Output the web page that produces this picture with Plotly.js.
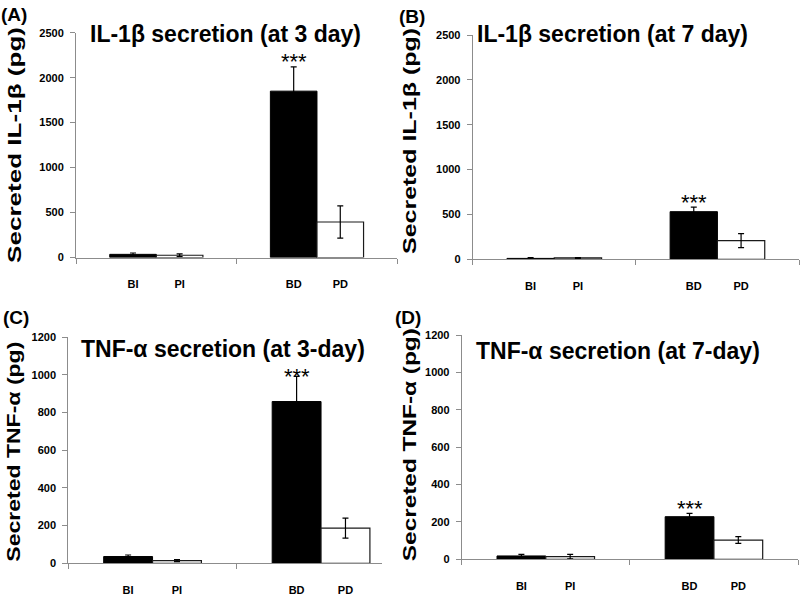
<!DOCTYPE html>
<html>
<head>
<meta charset="utf-8">
<script src="https://cdn.plot.ly/plotly-3.0.1.min.js"></script>
<style>
  html, body { margin: 0; padding: 0; background: #fff; }
  #chart { width: 800px; height: 599px; }
</style>
</head>
<body>
<div id="chart"></div>
<script>
// bar labels under each bar, two groups (I / D)
const groupPos = [0.5, 1.5];
const blackLabels = ['BI', 'BD'];
const whiteLabels = ['PI', 'PD'];

// (A) IL-1β at 3 day
const il1b3Black = [35, 1850];
const il1b3BlackErr = [15, 270];
const il1b3White = [25, 395];
const il1b3WhiteErr = [15, 180];

// (B) IL-1β at 7 day
const il1b7Black = [10, 531];
const il1b7BlackErr = [10, 50];
const il1b7White = [15, 208];
const il1b7WhiteErr = [4, 78];

// (C) TNF-α at 3 day
const tnf3Black = [36, 859];
const tnf3BlackErr = [8, 133];
const tnf3White = [14, 187];
const tnf3WhiteErr = [5, 53];

// (D) TNF-α at 7 day
const tnf7Black = [18, 228];
const tnf7BlackErr = [8, 18];
const tnf7White = [14, 103];
const tnf7WhiteErr = [12, 18];

const titles = ['IL-1β secretion (at 3 day)', 'IL-1β secretion (at 7 day)',
                'TNF-α secretion (at 3-day)', 'TNF-α secretion (at 7-day)'];
const yTitles = ['Secreted IL-1β (pg)', 'Secreted IL-1β (pg)',
                 'Secreted TNF-α (pg)', 'Secreted TNF-α (pg)'];
const panelLetters = ['(A)', '(B)', '(C)', '(D)'];

const W = 800, H = 599;
const GAP = 0.42;
const half = (1 - GAP) / 4;   // offset of each bar from the group centre
const axisGrey = '#8c8c8c';
const FONT = 'Liberation Sans, Arial, sans-serif';

// pixel boxes of each plot area: [left, right, top, bottom]
const panels = [
  { box: [76, 397.3, 32.7, 257.5], ymax: 2500, dtick: 500, xmax: 2, starShift: 5,
    black: il1b3Black, blackErr: il1b3BlackErr, white: il1b3White, whiteErr: il1b3WhiteErr,
    title: [225, 33.5], ytitle: [14, 145, 236], letter: [14, 14] },
  { box: [472.7, 799, 35, 259.3], ymax: 2500, dtick: 500, xmax: 2, starShift: 5,
    black: il1b7Black, blackErr: il1b7BlackErr, white: il1b7White, whiteErr: il1b7WhiteErr,
    title: [612.5, 33.5], ytitle: [410, 141, 226], letter: [412, 16] },
  { box: [68.3, 381.7, 337.3, 563.3], ymax: 1200, dtick: 200, xmax: 1.86, starShift: 0,
    black: tnf3Black, blackErr: tnf3BlackErr, white: tnf3White, whiteErr: tnf3WhiteErr,
    title: [223, 349], ytitle: [12.5, 452, 220], letter: [16, 317] },
  { box: [461.7, 798, 335, 559.3], ymax: 1200, dtick: 200, xmax: 2, starShift: 5,
    black: tnf7Black, blackErr: tnf7BlackErr, white: tnf7White, whiteErr: tnf7WhiteErr,
    title: [617.5, 351], ytitle: [408.5, 445, 233], letter: [408, 317] }
];

const data = [];
const layout = {
  width: W, height: H,
  margin: { l: 0, r: 0, t: 0, b: 0 },
  paper_bgcolor: '#fff', plot_bgcolor: '#fff',
  showlegend: false,
  barmode: 'group', bargap: GAP, bargroupgap: 0,
  font: { family: FONT, color: '#000' },
  annotations: []
};

panels.forEach((p, i) => {
  const n = i === 0 ? '' : String(i + 1);
  const xa = 'x' + n, ya = 'y' + n;
  data.push({
    type: 'bar', x: groupPos, y: p.black, xaxis: xa, yaxis: ya,
    marker: { color: '#000', line: { color: '#000', width: 1 } },
    error_y: { type: 'data', array: p.blackErr, color: '#000', thickness: 1.2, width: 3 }
  });
  data.push({
    type: 'bar', x: groupPos, y: p.white, xaxis: xa, yaxis: ya,
    marker: { color: '#fff', line: { color: '#1a1a1a', width: 1.2 } },
    error_y: { type: 'data', array: p.whiteErr, color: '#000', thickness: 1.2, width: 3 }
  });

  const [l, r, t, b] = p.box;
  const tickvals = [], ticktext = [];
  groupPos.forEach((g, k) => {
    tickvals.push(g - half, g + half);
    ticktext.push(blackLabels[k], whiteLabels[k]);
  });
  layout['xaxis' + n] = {
    domain: [l / W, r / W], anchor: ya, range: [0, p.xmax],
    showline: true, linecolor: axisGrey, linewidth: 1,
    showgrid: false, zeroline: false, fixedrange: true,
    tickmode: 'array', tickvals: tickvals, ticktext: ticktext, ticks: '',
    ticklabelstandoff: 16,
    tickfont: { family: FONT, size: 11, weight: 'bold', color: '#000' },
    minor: { tickmode: 'array', tickvals: [0, 1, 2], ticks: 'outside', ticklen: 5,
             tickwidth: 1, tickcolor: axisGrey }
  };
  layout['yaxis' + n] = {
    domain: [1 - b / H, 1 - t / H], anchor: xa, range: [0, p.ymax], dtick: p.dtick,
    showline: true, linecolor: axisGrey, linewidth: 1,
    showgrid: false, zeroline: false, fixedrange: true,
    ticks: 'outside', ticklen: 5, tickwidth: 1, tickcolor: axisGrey,
    ticklabelstandoff: 4,
    tickfont: { family: FONT, size: 11, weight: 'bold', color: '#000' }
  };

  // significance stars over the D-group black bar
  layout.annotations.push({
    xref: xa, yref: ya, x: groupPos[1] - half, y: p.black[1] + p.blackErr[1],
    text: '***', showarrow: false, yanchor: 'middle', yshift: p.starShift,
    font: { family: FONT, size: 22, color: '#000' }
  });
  // panel title
  layout.annotations.push({
    xref: 'paper', yref: 'paper', x: p.title[0] / W, y: 1 - p.title[1] / H,
    xanchor: 'center', yanchor: 'middle', text: titles[i], showarrow: false,
    font: { family: FONT, size: 23, weight: 'bold', color: '#000' }
  });
  // y axis title
  layout.annotations.push({
    xref: 'paper', yref: 'paper', x: p.ytitle[0] / W, y: 1 - p.ytitle[1] / H,
    xanchor: 'center', yanchor: 'middle', text: yTitles[i], showarrow: false,
    textangle: -90,
    font: { family: FONT, size: 19, weight: 'bold', color: '#000' }
  });
  // panel letter
  layout.annotations.push({
    xref: 'paper', yref: 'paper', x: p.letter[0] / W, y: 1 - p.letter[1] / H,
    xanchor: 'center', yanchor: 'middle', text: panelLetters[i], showarrow: false,
    font: { family: FONT, size: 19, weight: 'bold', color: '#000' }
  });
});

Plotly.newPlot('chart', data, layout, { staticPlot: true }).then(() => {
  // the y titles in the figure are drawn stretched along their length
  const yEls = Array.from(document.querySelectorAll('#chart .annotation-text'))
    .filter(e => yTitles.indexOf(e.textContent) >= 0);
  yEls.forEach((el, idx) => {
    el.setAttribute('textLength', panels[idx].ytitle[2]);
    el.setAttribute('lengthAdjust', 'spacingAndGlyphs');
  });
});
</script>
</body>
</html>
